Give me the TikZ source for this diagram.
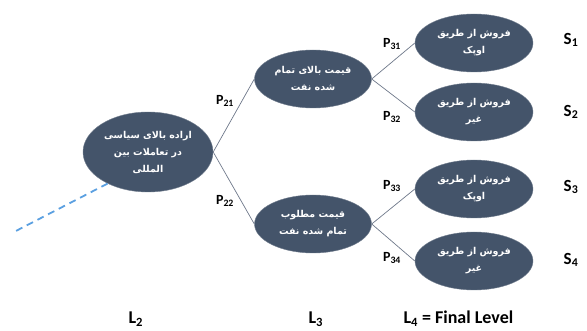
\documentclass[tikz,border=0pt]{standalone}
\usepackage{fontspec}
\usetikzlibrary{shapes.geometric}
\setmainfont{Carlito}
\newfontfamily\farsifont[Script=Arabic]{DejaVu Sans}
\TeXXeTstate=1
\newcommand{\fatext}[1]{{\farsifont\beginR #1\endR}}
\definecolor{slate}{RGB}{68,84,106}
\definecolor{edgegray}{RGB}{110,120,138}
\definecolor{dashblue}{RGB}{91,160,225}

\begin{document}
\begin{tikzpicture}[
      x=1pt, y=-1pt, % one unit = one pixel of the reference
      state/.style={ellipse, fill=slate, draw=slate!75!white, text=white, align=center, inner sep=0pt, font=\fontsize{9.5}{17}\selectfont\bfseries},
      branch/.style={draw=edgegray, line width=0.7pt},
      prob label/.style={font=\fontsize{14}{14}\selectfont\bfseries},
      end label/.style={font=\fontsize{17}{17}\selectfont\bfseries},
      level label/.style={font=\fontsize{18}{18}\selectfont\bfseries, anchor=base west}
    ]

    % Fix the frame
    \useasboundingbox (0,0) rectangle (587,331);

    % Decision at level 2
    \node[state, minimum width=130pt, minimum height=80pt] (root) at (148,152)
      {\fatext{اراده بالای سیاسی}\\ \fatext{در تعاملات بین}\\ \fatext{المللی}};

    % Level 3 states
    \node[state, minimum width=117pt, minimum height=58pt] (high) at (313,79)
      {\fatext{قیمت بالای تمام}\\ \fatext{شده نفت}};
    \node[state, minimum width=117pt, minimum height=58pt] (low) at (313,224)
      {\fatext{قیمت مطلوب}\\ \fatext{تمام شده نفت}};

    % Final level states
    \node[state, minimum width=118pt, minimum height=58pt] (s1) at (474,43) {\fatext{فروش از طریق}\\ \fatext{اوپک}};
    \node[state, minimum width=118pt, minimum height=58pt] (s2) at (474,112) {\fatext{فروش از طریق}\\ \fatext{غیر}};
    \node[state, minimum width=118pt, minimum height=58pt] (s3) at (474,189) {\fatext{فروش از طریق}\\ \fatext{اوپک}};
    \node[state, minimum width=118pt, minimum height=58pt] (s4) at (474,261) {\fatext{فروش از طریق}\\ \fatext{غیر}};

    % Branches
    \draw[branch] (root.east) -- (high.west);
    \draw[branch] (root.east) -- (low.west);
    \draw[branch] (high.east) -- (s1.west);
    \draw[branch] (high.east) -- (s2.west);
    \draw[branch] (low.east) -- (s3.west);
    \draw[branch] (low.east) -- (s4.west);

    % Incoming dashed link
    \coordinate (from) at (12,233);
    \draw[dashblue, dashed, line width=1.8pt, dash pattern=on 7pt off 5pt] (root.-142) -- (from);

    % Branch probabilities
    \node[prob label] (p21) at (225,101) {P\textsubscript{21}};
    \node[prob label] (p22) at (225,201) {P\textsubscript{22}};
    \foreach \name/\y [count=\i] in {p31/44, p32/117, p33/186, p34/258} {
        \node[prob label] (\name) at (392,\y) {P\textsubscript{3\i}};
      }

    % End states
    \foreach \y [count=\i] in {40, 112, 187, 260} {
        \node[end label] (end\i) at (571,\y) {S\textsubscript{\i}};
      }

    % Levels
    \node[level label] (l2) at (125,324) {L\textsubscript{2}};
    \node[level label] (l3) at (305,324) {L\textsubscript{3}};
    \node[level label] (l4) at (400,324) {L\textsubscript{4} = Final Level};

  \end{tikzpicture}
\end{document}
